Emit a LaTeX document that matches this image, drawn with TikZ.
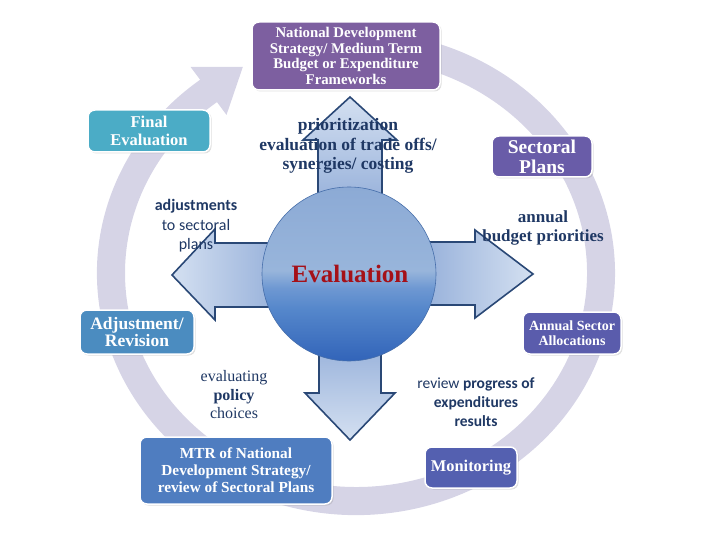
\documentclass[tikz,border=0pt]{standalone}
\usepackage{fontspec}
\setmainfont{Liberation Serif}
\newfontfamily\sansfnt{Carlito}
\usetikzlibrary{shadows}
\definecolor{ringc}{RGB}{214,212,230}
\definecolor{navy}{RGB}{31,56,100}
\definecolor{evred}{RGB}{165,16,24}
\definecolor{arrlight}{RGB}{212,224,241}
\definecolor{arrdark}{RGB}{110,145,203}
\definecolor{arredge}{RGB}{42,72,118}
\definecolor{balldk}{RGB}{50,100,185}
\definecolor{ballmd}{RGB}{85,135,203}
\definecolor{ballmd2}{RGB}{110,152,210}
\definecolor{balllt}{RGB}{152,181,219}
\definecolor{balllt2}{RGB}{140,170,213}
\definecolor{cTop}{RGB}{125,95,160}
\definecolor{cFinal}{RGB}{75,172,198}
\definecolor{cSect}{RGB}{105,92,168}
\definecolor{cAdj}{RGB}{75,140,192}
\definecolor{cAnn}{RGB}{90,92,172}
\definecolor{cMTR}{RGB}{79,125,192}
\definecolor{cMon}{RGB}{84,96,176}
\pgfdeclareverticalshading{ballshade}{100bp}{color(0bp)=(balldk); color(25bp)=(balldk); color(40bp)=(ballmd); color(46bp)=(ballmd2); color(51bp)=(balllt); color(75bp)=(balllt2); color(100bp)=(balllt2)}
\tikzset{
  box/.style={rounded corners=7pt, draw=white, line width=1.5pt, text=white,
    align=center, inner sep=0pt, font=\bfseries,
    drop shadow={opacity=0.25, shadow xshift=1.5pt, shadow yshift=-1.5pt}},
  blockarrow/.style={draw=arredge, line width=1.6pt, line join=miter},
  txt/.style={text=navy, align=center, inner sep=0pt}
}
\begin{document}
\begin{tikzpicture}[x=1pt,y=-1pt]
\useasboundingbox (0,0) rectangle (720,540);
% ring arrow
\fill[ringc] (200.1,79.7) -- (190.5,66.9) -- (242.9,66.8) -- (226.5,114.9) -- (217.0,102.1)
  arc[start angle=233, end angle=-72, x radius=231, y radius=214]
  -- (436.0,42.9)
  arc[start angle=-72, end angle=233, x radius=259, y radius=242] -- cycle;
% boxes
\node[box, fill=cTop, minimum width=188pt, minimum height=68pt, font=\bfseries\fontsize{14.8}{15.4}\selectfont] (nds) at (346,56) {National Development\\Strategy/ Medium Term\\Budget or Expenditure\\Frameworks};
\node[box, fill=cFinal, minimum width=122pt, minimum height=42pt, font=\bfseries\fontsize{16.5}{18}\selectfont] (final) at (149,131) {Final\\Evaluation};
\node[box, fill=cSect, minimum width=100pt, minimum height=41pt, font=\bfseries\fontsize{19.5}{20}\selectfont] (sect) at (542,156.5) {Sectoral\\Plans};
\node[box, fill=cAdj, minimum width=114pt, minimum height=44pt, font=\bfseries\fontsize{17.5}{17}\selectfont] (adj) at (137,332) {Adjustment/\\Revision};
\node[box, fill=cAnn, minimum width=98pt, minimum height=42pt, font=\bfseries\fontsize{14}{15.5}\selectfont] (ann) at (572,333) {Annual Sector\\Allocations};
\node[box, fill=cMTR, minimum width=192pt, minimum height=67pt, font=\bfseries\fontsize{15.3}{17}\selectfont] (mtr) at (236,470.5) {MTR of National\\Development Strategy/\\review of Sectoral Plans};
\node[box, fill=cMon, minimum width=92pt, minimum height=41pt, font=\bfseries\fontsize{16.4}{18}\selectfont] (mon) at (471,467.5) {Monitoring};
% block arrows
\shadedraw[blockarrow, top color=arrlight, bottom color=arrdark]
  (318,274) -- (318,140) -- (303,140) -- (350,97) -- (397,140) -- (382,140) -- (382,274) -- cycle;
\shadedraw[blockarrow, top color=arrdark, bottom color=arrlight]
  (319,274) -- (319,393) -- (305,393) -- (350,440) -- (395,393) -- (381,393) -- (381,274) -- cycle;
\shadedraw[blockarrow, left color=arrlight, right color=arrdark]
  (350,243) -- (215,243) -- (215,229) -- (172,275) -- (215,320) -- (215,307) -- (350,307) -- cycle;
\shadedraw[blockarrow, left color=arrdark, right color=arrlight]
  (350,242) -- (475,242) -- (475,230) -- (533,274) -- (475,318) -- (475,305) -- (350,305) -- cycle;
% centre circle
\path[shading=ballshade, draw={rgb,255:red,70;green,110;blue,170}, line width=0.6pt] (349,274) circle[radius=87];
\node[inner sep=0pt, text=evred, font=\bfseries\fontsize{25}{26}\selectfont] (ev) at (350,274) {Evaluation};
% texts
\node[txt, font=\bfseries\fontsize{17.5}{19.5}\selectfont] (prio) at (348,146) {prioritization\\evaluation of trade offs/\\synergies/ costing};
\node[txt, font=\sansfnt\fontsize{16}{19.5}\selectfont] (adjt) at (196,226) {\textbf{adjustments}\\to sectoral\\plans};
\node[txt, font=\bfseries\fontsize{17}{19}\selectfont] (budg) at (543,228) {annual\\budget priorities};
\node[txt, font=\fontsize{16}{18.5}\selectfont] (evpol) at (234,395) {evaluating\\\textbf{policy}\\choices};
\node[txt, font=\sansfnt\fontsize{15.5}{19}\selectfont] (rev) at (476,402) {review \textbf{progress of}\\\textbf{expenditures}\\\textbf{results}};
\end{tikzpicture}
\end{document}
